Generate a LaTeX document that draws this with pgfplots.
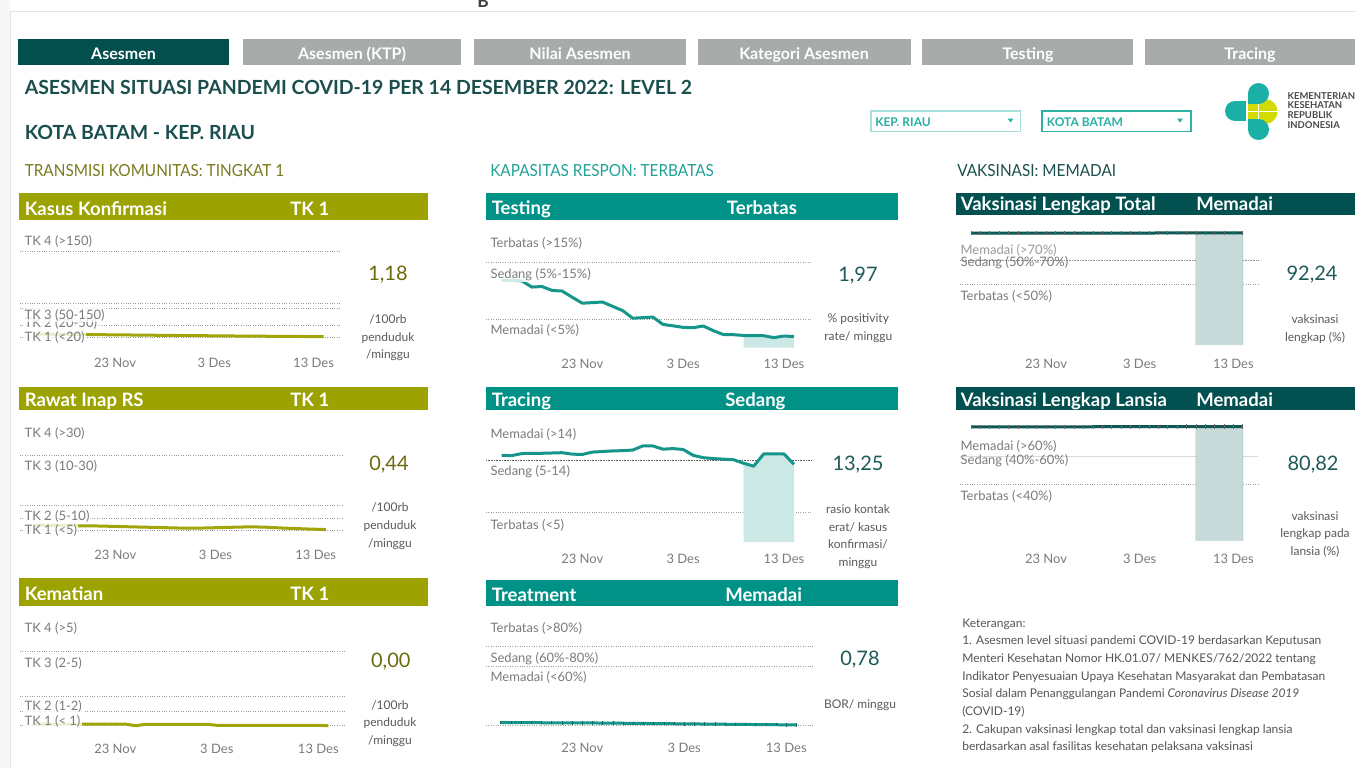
\documentclass[border=0pt]{standalone}
\usepackage{pgfplots}
\pgfplotsset{compat=1.18}
\usepackage{fontspec}
\setmainfont{Lato}
\newfontfamily\condf[FakeStretch=0.92]{Lato}

\definecolor{tabdark}{HTML}{034F4E}
\definecolor{tabgray}{HTML}{A7ABAA}
\definecolor{titlec}{HTML}{1B4F4E}
\definecolor{oliveh}{HTML}{9CA300}
\definecolor{oliveline}{HTML}{A0A60A}
\definecolor{olivetxt}{HTML}{7A7A1E}
\definecolor{oliveval}{HTML}{6B6B0C}
\definecolor{tealh}{HTML}{009187}
\definecolor{tealline}{HTML}{16968B}
\definecolor{tealshade}{HTML}{CCE8E5}
\definecolor{tealtxt}{HTML}{21A297}
\definecolor{dtealh}{HTML}{02504F}
\definecolor{dtealline}{HTML}{0F5955}
\definecolor{dtealval}{HTML}{1D5A58}
\definecolor{vshade}{HTML}{C8DBDA}
\definecolor{vshadeedge}{HTML}{A9C6C4}
\definecolor{labc}{HTML}{7B7B7B}
\definecolor{tickc}{HTML}{7B7B7B}
\definecolor{unitc}{HTML}{5A5A5A}
\definecolor{refc}{HTML}{9C9C9C}
\definecolor{logoteal}{HTML}{1BB0A6}
\definecolor{logoyel}{HTML}{D2DB00}
\definecolor{ddbox}{HTML}{2DB3A6}
\definecolor{ddboxl}{HTML}{A6E0DA}
\definecolor{ddtxt}{HTML}{27B0A3}
\definecolor{ketc}{HTML}{555555}
\definecolor{logotxt}{HTML}{4A4A4A}

\newcommand\fs[1]{\fontsize{#1pt}{#1pt}\selectfont}
\tikzset{
  refl/.style={refc, line width=0.6pt, dash pattern=on 0.6pt off 1.2pt},
  refdark/.style={black!65, line width=0.6pt, dash pattern=on 0.6pt off 0.6pt},
  refsolid/.style={black!15, line width=0.75pt, solid},
  lab/.style={anchor=west, font=\fs{9.75}, text=labc, fill=white, fill opacity=0.8, text opacity=1, inner xsep=1pt, inner ysep=0.5pt},
  labn/.style={anchor=west, font=\fs{9.75}, text=labc, inner xsep=1pt, inner ysep=0.5pt},
  hdr/.style={anchor=base west, inner sep=0pt, font=\bfseries\fs{13.9}, text=white},
  val/.style={anchor=base, inner sep=0pt, font=\fs{15}},
  unit/.style={anchor=base, inner sep=0pt, font=\fs{9}, text=unitc},
  ket/.style={anchor=base west, inner sep=0pt, font=\fs{9}, text=ketc},
  tabt/.style={anchor=base, inner sep=0pt, font=\bfseries\fs{12}, text=white},
  sect/.style={anchor=base west, inner sep=0pt, font=\condf\fs{12.5}},
}
\newcommand\refline[2][]{\draw[refl,#1] ({rel axis cs:0,0}|-{axis cs:0,#2}) -- ({rel axis cs:1,0}|-{axis cs:0,#2});}

\pgfplotsset{
  panel/.style={scale only axis, clip=false, anchor=north west,
    axis line style={draw=none}, major tick length=0pt, ytick=\empty,
    xtick={0,10,20}, xticklabels={23 Nov,3 Des,13 Des},
    xticklabel style={font=\fs{9.75}, text=tickc, anchor=center}},
}

\begin{document}
\begin{tikzpicture}
\begin{scope}[x=0.75pt,y=-0.75pt]
\path[use as bounding box, fill=white] (0,0) rectangle (1355,768);
\fill[black!3] (0,0) rectangle (10,768);
\draw[black!10, line width=0.75pt] (10,768) -- (10,11) -- (1355,11);
\node[anchor=base, inner sep=0pt, font=\bfseries\fs{13}, text=black!75] at (483,7) {B};

% tabs
\fill[tabdark] (18,38.5) rectangle (229,65);
\fill[tabgray] (243,38.5) rectangle (461,65);
\fill[tabgray] (474,38.5) rectangle (686,65);
\fill[tabgray] (697.6,38.5) rectangle (910.5,65);
\fill[tabgray] (922.4,38.5) rectangle (1133,65);
\fill[tabgray] (1144.6,38.5) rectangle (1355,65);
\node[tabt] at (123.5,59) {Asesmen};
\node[tabt] at (352,59) {Asesmen (KTP)};
\node[tabt] at (580,59) {Nilai Asesmen};
\node[tabt] at (804,59) {Kategori Asesmen};
\node[tabt] at (1028,59) {Testing};
\node[tabt] at (1250,59) {Tracing};

% titles
\node[anchor=base west, inner sep=0pt, font=\bfseries\fs{14.6}, text=titlec] at (24.5,94.3) {ASESMEN SITUASI PANDEMI COVID-19 PER 14 DESEMBER 2022: LEVEL 2};
\node[anchor=base west, inner sep=0pt, font=\bfseries\fs{14.6}, text=titlec] at (24.5,139.3) {KOTA BATAM - KEP. RIAU};

% dropdowns
\draw[ddboxl, line width=1.1pt] (871,111) rectangle (1020.5,131.5);
\node[anchor=base west, inner sep=0pt, font=\bfseries\fs{9}, text=ddtxt] at (875,126) {KEP. RIAU};
\fill[ddtxt] (1007.5,118.5) -- (1013.5,118.5) -- (1010.5,122.5) -- cycle;
\draw[ddbox, line width=1.1pt] (1042,111) rectangle (1191,131.5);
\node[anchor=base west, inner sep=0pt, font=\bfseries\fs{9}, text=ddtxt] at (1046.7,126) {KOTA BATAM};
\fill[ddtxt] (1177,118.5) -- (1183,118.5) -- (1180,122.5) -- cycle;

% logo
\fill[logoyel] (1248,96) rectangle (1266,127);
\fill[logoyel] (1265,111.5) circle (12.5);
\fill[logoteal] (1235,111) circle (10);
\fill[logoteal] (1235,101) rectangle (1247,121);
\fill[logoteal] (1258.5,93.5) circle (10.5);
\fill[logoteal] (1248,93.5) rectangle (1258.5,104);
\fill[logoteal] (1258.5,129.5) circle (10.5);
\fill[logoteal] (1248,119) rectangle (1258.5,129.5);
\draw[white, line width=0.9pt] (1247,100) -- (1247,123);
\draw[white, line width=0.9pt] (1248,111.5) -- (1278,111.5);
\draw[white, line width=0.9pt] (1258.5,104) -- (1258.5,119);
\node[anchor=base west, inner sep=0pt, font=\bfseries\fs{7.1}, text=logotxt] at (1287.3,99) {KEMENTERIAN};
\node[anchor=base west, inner sep=0pt, font=\bfseries\fs{7.1}, text=logotxt] at (1287.3,108.8) {KESEHATAN};
\node[anchor=base west, inner sep=0pt, font=\bfseries\fs{7.1}, text=logotxt] at (1287.3,118.6) {REPUBLIK};
\node[anchor=base west, inner sep=0pt, font=\bfseries\fs{7.1}, text=logotxt] at (1287.3,128.4) {INDONESIA};

% section headings
\node[sect, text=olivetxt] at (24.5,176) {TRANSMISI KOMUNITAS: TINGKAT 1};
\node[sect, text=tealtxt] at (490,176) {KAPASITAS RESPON: TERBATAS};
\node[sect, text=titlec] at (957,176) {VAKSINASI: MEMADAI};

% header bars
\fill[oliveh] (19,193) rectangle (428,220);
\fill[oliveh] (19,386.7) rectangle (428,410);
\fill[oliveh] (19,578) rectangle (428,605.7);
\fill[tealh] (486,193.3) rectangle (897.7,219.7);
\fill[tealh] (486,387) rectangle (897.7,410);
\fill[tealh] (486,580) rectangle (897.7,605.7);
\fill[dtealh] (956,193.3) rectangle (1355,215);
\fill[dtealh] (956,387) rectangle (1355,410);
\node[hdr] at (24.5,215) {Kasus Konfirmasi};
\node[hdr] at (290,215) {TK 1};
\node[hdr] at (24.5,406) {Rawat Inap RS};
\node[hdr] at (290,406) {TK 1};
\node[hdr] at (24.5,600) {Kematian};
\node[hdr] at (290,600) {TK 1};
\node[hdr] at (491.5,214.3) {Testing};
\node[hdr] at (726.7,214.3) {Terbatas};
\node[hdr] at (491.5,406.7) {Tracing};
\node[hdr] at (725,406.7) {Sedang};
\node[hdr] at (491.5,601) {Treatment};
\node[hdr] at (725,601) {Memadai};
\node[hdr] at (960.5,210.7) {Vaksinasi Lengkap Total};
\node[hdr] at (1196,210.7) {Memadai};
\node[hdr] at (960.5,406) {Vaksinasi Lengkap Lansia};
\node[hdr] at (1196,406) {Memadai};

% values
\node[val, text=oliveval] at (388,280) {1,18};
\node[val, text=oliveval] at (389,470) {0,44};
\node[val, text=oliveval] at (390.8,667.3) {0,00};
\node[val, text=dtealval] at (858,281.7) {1,97};
\node[val, text=dtealval] at (858,470.7) {13,25};
\node[val, text=dtealval] at (860,665.7) {0,78};
\node[val, text=dtealval] at (1312,280.7) {92,24};
\node[val, text=dtealval] at (1313,470) {80,82};

% units
\node[unit] at (388,323.3) {/100rb};
\node[unit] at (388,341) {penduduk};
\node[unit] at (388,358.7) {/minggu};
\node[unit] at (390,511.7) {/100rb};
\node[unit] at (390,529.4) {penduduk};
\node[unit] at (390,547.1) {/minggu};
\node[unit] at (390,709) {/100rb};
\node[unit] at (390,726.7) {penduduk};
\node[unit] at (390,744.4) {/minggu};
\node[unit] at (858.3,322.7) {\% positivity};
\node[unit] at (858.3,340.4) {rate/ minggu};
\node[unit] at (858,513.3) {rasio kontak};
\node[unit] at (858,531) {erat/ kasus};
\node[unit] at (858,548.7) {konfirmasi/};
\node[unit] at (858,566.4) {minggu};
\node[unit] at (860,708.3) {BOR/ minggu};
\node[unit] at (1315,323.3) {vaksinasi};
\node[unit] at (1315,341) {lengkap (\%)};
\node[unit] at (1315,520) {vaksinasi};
\node[unit] at (1315,537.7) {lengkap pada};
\node[unit] at (1315,555.4) {lansia (\%)};

% keterangan
\node[ket] at (962,627) {Keterangan:};
\node[ket] at (962,644.7) {1. Asesmen level situasi pandemi COVID-19 berdasarkan Keputusan};
\node[ket] at (962,662.4) {Menteri Kesehatan Nomor HK.01.07/ MENKES/762/2022 tentang};
\node[ket] at (962,680.1) {Indikator Penyesuaian Upaya Kesehatan Masyarakat dan Pembatasan};
\node[ket] at (962,697.8) {Sosial dalam Penanggulangan Pandemi \textit{Coronavirus Disease 2019}};
\node[ket] at (962,715.5) {(COVID-19)};
\node[ket] at (962,733.2) {2. Cakupan vaksinasi lengkap total dan vaksinasi lengkap lansia};
\node[ket] at (962,750.9) {berdasarkan asal fasilitas kesehatan pelaksana vaksinasi};
\end{scope}

% ---------------- Kasus Konfirmasi
\begin{axis}[panel, at={(15pt,-172.5pt)}, width=240pt, height=86.25pt,
  xmin=-9.57, xmax=22.66, ymin=-13.49, ymax=188,
  xticklabel style={yshift=-13.5pt}]
\refline{150}\refline{59.6}\refline{50}\refline{20}\refline{0}
\addplot[oliveline, line width=2.25pt, line join=round] coordinates {
(-8,5.6)(-7,5.5)(-6,5.3)(-5,5.2)(-4,5.0)(-3,4.8)(-2,4.6)(-1,4.5)(0,4.3)(1,4.1)
(2,4.0)(3,3.8)(4,3.6)(5,3.5)(6,3.3)(7,3.1)(8,3.0)(9,2.8)(10,2.6)(11,2.5)
(12,2.3)(13,2.1)(14,2.0)(15,1.9)(16,1.7)(17,1.6)(18,1.5)(19,1.4)(20,1.3)(21,1.18)};
\end{axis}

% ---------------- Rawat Inap
\begin{axis}[panel, at={(15pt,-315pt)}, width=242.25pt, height=88.5pt,
  xmin=-9.51, xmax=22.72, ymin=-2.89, ymax=43.88,
  xticklabel style={yshift=-12.75pt}]
\refline{30}\refline{10}\refline{5}\refline{0}
\addplot[oliveline, line width=2.25pt, line join=round] coordinates {
(-8,2.1)(-7,2.1)(-6,2.0)(-5,2.0)(-4,2.0)(-3,1.9)(-2,1.9)(-1,1.8)(0,1.7)(1,1.6)
(2,1.5)(3,1.4)(4,1.3)(5,1.2)(6,1.1)(7,1.0)(8,1.0)(9,1.1)(10,1.2)(11,1.3)
(12,1.4)(13,1.5)(14,1.5)(15,1.4)(16,1.2)(17,1.0)(18,0.9)(19,0.7)(20,0.6)(21,0.44)};
\end{axis}

% ---------------- Kematian
\begin{axis}[panel, at={(15pt,-461.25pt)}, width=243.75pt, height=88.5pt,
  xmin=-9.39, xmax=22.63, ymin=-0.49, ymax=7.48,
  xticklabel style={yshift=-12pt}]
\refline{5}\refline{2}\refline{1}\refline{0}
\addplot[oliveline, line width=2.25pt, line join=round] coordinates {
(-8,0.11)(-7,0.11)(-6,0.11)(-5,0.11)(-4,0.11)(-3,0.11)(-2,0.11)(-1,0.11)(0,0.11)(1,0.11)
(2,0.0)(3,0.1)(4,0.1)(5,0.1)(6,0.1)(7,0.1)(8,0.1)(9,0.1)(10,0.03)(11,0.03)
(12,0.03)(13,0.03)(14,0.03)(15,0.03)(16,0.03)(17,0.03)(18,0.03)(19,0.03)(20,0.03)(21,0.0)};
\end{axis}

% ---------------- Testing
\begin{axis}[panel, at={(364.5pt,-172.5pt)}, width=244.3pt, height=90pt,
  xmin=-9.55, xmax=22.76, ymin=-0.42, ymax=20.78,
  xticklabel style={yshift=-10.5pt}]
\refline{15}\refline{5}
\addplot[fill=tealshade, draw=none] coordinates {
(16,0)(16,2.15)(17,2.1)(18,2.1)(19,1.77)(20,2.05)(21,1.97)(21,0)};
\addplot[tealline, line width=2.25pt, line join=round] coordinates {
(-8,11.9)(-7,11.9)(-6,11.8)(-5,10.7)(-4,10.8)(-3,10.1)(-2,10.0)(-1,8.9)(0,7.85)(1,7.95)
(2,8.06)(3,7.3)(4,6.55)(5,5.2)(6,5.3)(7,5.4)(8,4.1)(9,3.85)(10,3.58)(11,3.52)
(12,3.82)(13,3.0)(14,2.3)(15,2.29)(16,2.15)(17,2.1)(18,2.1)(19,1.77)(20,2.05)(21,1.97)};
\end{axis}

% ---------------- Tracing
\begin{axis}[panel, at={(364.5pt,-315pt)}, width=244.3pt, height=93.75pt,
  xmin=-9.55, xmax=22.76, ymin=-0.51, ymax=20.83,
  xticklabel style={yshift=-10pt}]
\refline[refdark]{14}\refline{5}
\addplot[fill=tealshade, draw=none] coordinates {
(16,0)(16,13.45)(17,12.95)(18,15.05)(19,15.05)(20,15.05)(21,13.25)(21,0)};
\addplot[tealline, line width=2.25pt, line join=round] coordinates {
(-8,14.8)(-7,14.75)(-6,15.1)(-5,15.15)(-4,15.15)(-3,15.2)(-2,15.25)(-1,15.0)(0,14.95)(1,15.35)
(2,15.45)(3,15.55)(4,15.6)(5,15.7)(6,16.4)(7,16.4)(8,15.85)(9,15.95)(10,15.8)(11,14.8)
(12,14.4)(13,14.25)(14,14.15)(15,14.05)(16,13.45)(17,12.95)(18,15.05)(19,15.05)(20,15.05)(21,13.25)};
\end{axis}

% ---------------- Treatment
\begin{axis}[panel, at={(364.5pt,-461.25pt)}, width=245.25pt, height=86.25pt,
  xmin=-9.44, xmax=22.62, ymin=-4.35, ymax=112.1,
  xticklabel style={yshift=-13.7pt}]
\refline{80}\refline{60}\refline{0}
\addplot[tealline, line width=2.25pt, line join=round, mark=|, mark size=1.3pt,
  mark options={line width=0.5pt, draw=tealline!70!black}] coordinates {
(-8,3.2)(-7,3.2)(-6,3.1)(-5,3.1)(-4,3.0)(-3,3.0)(-2,2.9)(-1,2.9)(0,2.8)(1,2.8)
(2,2.7)(3,2.6)(4,2.5)(5,2.4)(6,2.3)(7,2.2)(8,2.1)(9,2.0)(10,1.9)(11,1.8)
(12,1.7)(13,1.6)(14,1.5)(15,1.4)(16,1.3)(17,1.2)(18,1.1)(19,1.0)(20,0.9)(21,0.78)};
\end{axis}

% ---------------- Vaksinasi Lengkap Total
\begin{axis}[panel, at={(720pt,-166.5pt)}, width=223.5pt, height=96pt,
  xmin=-9.18, xmax=22.63, ymin=-4.1, ymax=101.2,
  xticklabel style={yshift=-10.5pt}]
\refline[refdark, black!45]{70}\refline{50}
\addplot[fill=vshade, draw=vshadeedge, line width=0.5pt] coordinates {
(16,0)(16,92.19)(17,92.2)(18,92.21)(19,92.22)(20,92.23)(21,92.24)(21,0)};
\addplot[dtealline, line width=2.25pt, mark=|, mark size=1.6pt,
  mark options={line width=0.5pt, draw=black!60}] coordinates {
(-8,91.96)(-7,91.97)(-6,91.98)(-5,91.99)(-4,92.0)(-3,92.01)(-2,92.02)(-1,92.03)(0,92.04)(1,92.05)
(2,92.06)(3,92.07)(4,92.08)(5,92.09)(6,92.1)(7,92.11)(8,92.12)(9,92.13)(10,92.14)(11,92.15)
(12,92.16)(13,92.17)(14,92.18)(15,92.19)(16,92.19)(17,92.2)(18,92.21)(19,92.22)(20,92.23)(21,92.24)};
\end{axis}

% ---------------- Vaksinasi Lengkap Lansia
\begin{axis}[panel, at={(720pt,-312pt)}, width=223.5pt, height=96.75pt,
  xmin=-9.18, xmax=22.63, ymin=-2.9, ymax=88.27,
  xticklabel style={yshift=-10.5pt}]
\refline[refsolid]{60}\refline{40}
\addplot[fill=vshade, draw=vshadeedge, line width=0.5pt] coordinates {
(16,0)(16,80.77)(17,80.78)(18,80.79)(19,80.8)(20,80.81)(21,80.82)(21,0)};
\addplot[dtealline, line width=2.25pt, mark=|, mark size=1.6pt,
  mark options={line width=0.5pt, draw=black!60}] coordinates {
(-8,80.55)(-7,80.56)(-6,80.57)(-5,80.58)(-4,80.59)(-3,80.6)(-2,80.61)(-1,80.62)(0,80.63)(1,80.64)
(2,80.65)(3,80.66)(4,80.67)(5,80.68)(6,80.69)(7,80.7)(8,80.71)(9,80.72)(10,80.73)(11,80.74)
(12,80.75)(13,80.76)(14,80.76)(15,80.77)(16,80.77)(17,80.78)(18,80.79)(19,80.8)(20,80.81)(21,80.82)};
\end{axis}

% threshold labels (over the plots)
\begin{scope}[x=0.75pt,y=-0.75pt]
\node[lab] at (23,241.7) {TK 4 (>150)};
\node[lab] at (23,337) {TK 1 (<20)};
\node[lab] at (23,323) {TK 2 (20-50)};
\node[lab] at (23,315) {TK 3 (50-150)};
\node[lab] at (23,433.3) {TK 4 (>30)};
\node[lab] at (23,466) {TK 3 (10-30)};
\node[lab] at (23,530) {TK 1 (<5)};
\node[lab] at (23,516.7) {TK 2 (5-10)};
\node[lab] at (23,628.3) {TK 4 (>5)};
\node[lab] at (23,663.3) {TK 3 (2-5)};
\node[lab] at (23,721.7) {TK 1 (< 1)};
\node[lab] at (23,706.7) {TK 2 (1-2)};
\node[lab] at (489,243.3) {Terbatas (>15\%)};
\node[lab] at (489,275) {Sedang (5\%-15\%)};
\node[lab] at (489,330.7) {Memadai (<5\%)};
\node[lab] at (489,434) {Memadai (>14)};
\node[lab] at (489,471.7) {Sedang (5-14)};
\node[lab] at (489,525) {Terbatas (<5)};
\node[lab] at (489,628.3) {Terbatas (>80\%)};
\node[lab] at (489,658.3) {Sedang (60\%-80\%)};
\node[lab] at (489,677.7) {Memadai (<60\%)};
\node[labn, text=black!40] at (959,250) {Memadai (>70\%)};
\node[labn] at (959,262.7) {Sedang (50\%-70\%)};
\node[labn] at (959,296.7) {Terbatas (<50\%)};
\node[labn] at (959,446.7) {Memadai (>60\%)};
\node[labn] at (959,461) {Sedang (40\%-60\%)};
\node[labn] at (959,496.7) {Terbatas (<40\%)};
\end{scope}

\pgfresetboundingbox
\path[use as bounding box] (0pt,0pt) rectangle (1016.25pt,-576pt);
\end{tikzpicture}
\end{document}
